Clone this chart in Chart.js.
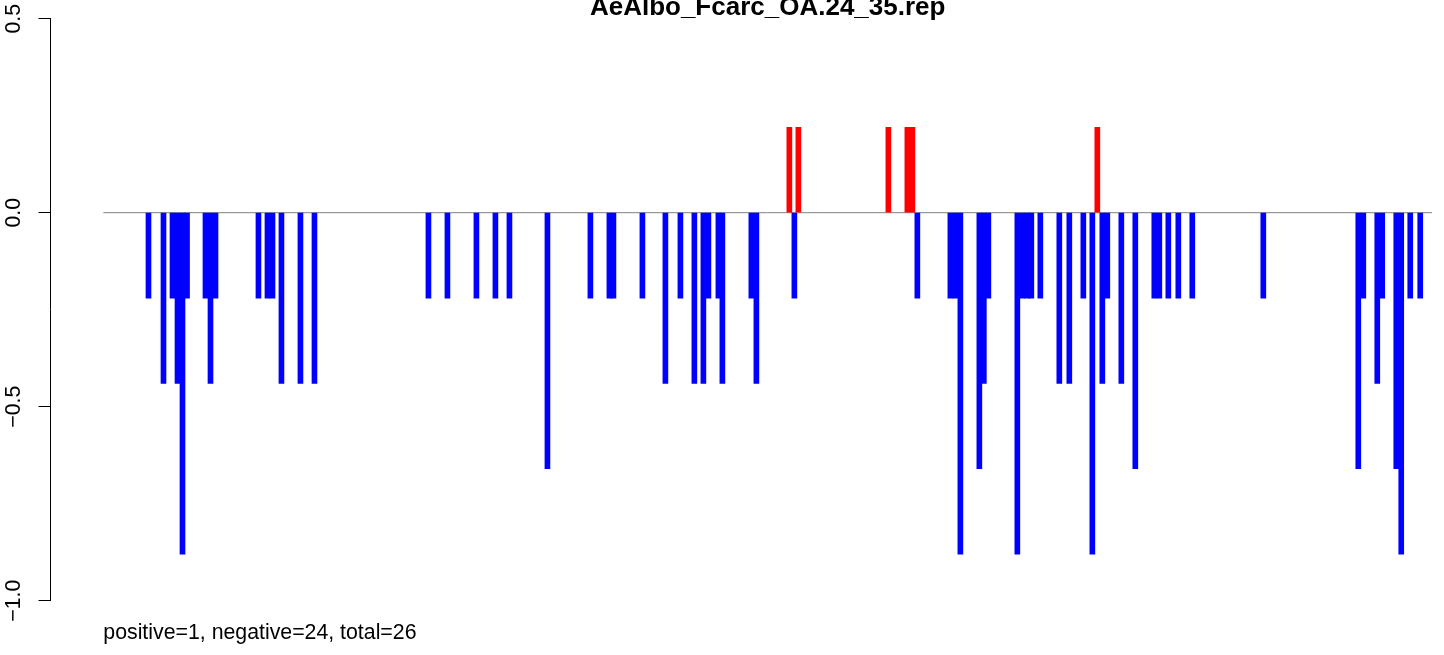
<!DOCTYPE html>
<html>
<head>
<meta charset="utf-8">
<script src="https://cdn.jsdelivr.net/npm/chart.js@4.4.1/dist/chart.umd.min.js"></script>
<style>
  html, body { margin: 0; padding: 0; background: #ffffff; }
  #wrap { width: 1444px; height: 655px; }
</style>
</head>
<body>
<div id="wrap"><canvas id="c" width="1444" height="655"></canvas></div>
<script>
// ---- data ----
const chartTitle = "AeAlbo_Fcarc_OA.24_35.rep";
const footNote = "positive=1, negative=24, total=26";

// position of each bar along the (hidden) x axis
const positions = [
  9.18, 12.23, 14.06, 15.08, 16.09, 17.01, 20.76, 21.78, 22.80, 31.53,
  33.36, 34.38, 36.20, 40.06, 42.91, 66.07, 69.93, 75.82, 79.68, 82.53,
  90.25, 98.98, 102.84, 103.66, 109.55, 114.22, 117.27, 120.11, 121.94, 122.96,
  124.99, 125.80, 131.69, 132.71, 139.41, 140.43, 141.24, 159.53, 163.39, 164.41,
  165.42, 172.13, 173.15, 174.16, 178.02, 178.93, 179.85, 185.74, 186.75, 187.77,
  188.58, 190.41, 194.27, 196.30, 199.15, 200.98, 201.99, 203.01, 204.02, 206.87,
  209.71, 213.57, 214.59, 216.42, 218.45, 221.29, 235.72, 255.02, 256.04, 258.88,
  259.89, 262.74, 263.75, 265.58, 267.61
];
// score of each bar
const scores = [
  -0.22, -0.44, -0.22, -0.44, -0.88, -0.22, -0.22, -0.44, -0.22, -0.22,
  -0.22, -0.22, -0.44, -0.44, -0.44, -0.22, -0.22, -0.22, -0.22, -0.22,
  -0.66, -0.22, -0.22, -0.22, -0.22, -0.44, -0.22, -0.44, -0.44, -0.22,
  -0.22, -0.44, -0.22, -0.44, 0.22, -0.22, 0.22, 0.22, 0.22, 0.22,
  -0.22, -0.22, -0.22, -0.88, -0.66, -0.44, -0.22, -0.88, -0.22, -0.22,
  -0.22, -0.22, -0.44, -0.44, -0.22, -0.88, 0.22, -0.44, -0.22, -0.44,
  -0.66, -0.22, -0.22, -0.22, -0.22, -0.22, -0.22, -0.66, -0.22, -0.44,
  -0.22, -0.66, -0.88, -0.22, -0.22
];
const xStart = 0;       // start of the region (zero line start)
const xEnd = 270;       // end of the region
const xAxisMin = -10.73; // left edge where the y axis sits
const yTicks = [-1.0, -0.5, 0.0, 0.5];

// ---- build ----
const points = positions.map((p, i) => ({ x: p, y: scores[i] }));
const colors = scores.map(v => v > 0 ? '#ff0000' : '#0000ff');
const FONT = "'Liberation Sans', Arial, Helvetica, sans-serif";

const extras = {
  id: 'extras',
  beforeDatasetsDraw(chart) {
    const { ctx } = chart;
    const xs = chart.scales.x, ys = chart.scales.y;
    const y0 = ys.getPixelForValue(0);
    ctx.save();
    ctx.strokeStyle = '#808080';
    ctx.lineWidth = 1;
    ctx.beginPath();
    ctx.moveTo(xs.getPixelForValue(xStart), y0);
    ctx.lineTo(xs.getPixelForValue(xEnd), y0);
    ctx.stroke();
    ctx.restore();
  },
  afterDraw(chart) {
    const { ctx } = chart;
    const xs = chart.scales.x;
    const left = xs.getPixelForValue(xStart);
    const right = xs.getPixelForValue(xEnd);
    ctx.save();
    ctx.fillStyle = '#000000';
    ctx.font = "bold 26px " + FONT;
    ctx.textAlign = 'center';
    ctx.textBaseline = 'alphabetic';
    ctx.fillText(chartTitle, (left + right) / 2, 15);
    ctx.font = "21.3px " + FONT;
    ctx.textAlign = 'left';
    ctx.fillText(footNote, left, 639);
    ctx.restore();
  }
};

new Chart(document.getElementById('c'), {
  type: 'bar',
  data: {
    datasets: [{
      data: points,
      backgroundColor: colors,
      borderWidth: 0,
      barThickness: 5,
      grouped: false
    }]
  },
  options: {
    responsive: false,
    animation: false,
    events: [],
    layout: { padding: { left: 0, right: 12, top: 18.7, bottom: 54.3 } },
    plugins: { legend: { display: false }, tooltip: { enabled: false }, title: { display: false } },
    scales: {
      x: {
        type: 'linear',
        display: false,
        offset: false,
        min: xAxisMin,
        max: xEnd
      },
      y: {
        type: 'linear',
        min: -1,
        max: 0.5,
        afterBuildTicks: (scale) => { scale.ticks = yTicks.map(v => ({ value: v })); },
        afterFit: (scale) => { scale.width = 50.5; },
        border: { display: true, color: '#000000', width: 1 },
        grid: { drawOnChartArea: false, drawTicks: true, tickLength: 12, color: '#000000', lineWidth: 1 },
        ticks: {
          minRotation: 90,
          maxRotation: 90,
          crossAlign: 'center',
          padding: 3,
          color: '#000000',
          font: { family: FONT, size: 21.3 },
          callback: (v) => (v < 0 ? '\u2212' : '') + Math.abs(v).toFixed(1)
        }
      }
    }
  },
  plugins: [extras]
});
</script>
</body>
</html>
